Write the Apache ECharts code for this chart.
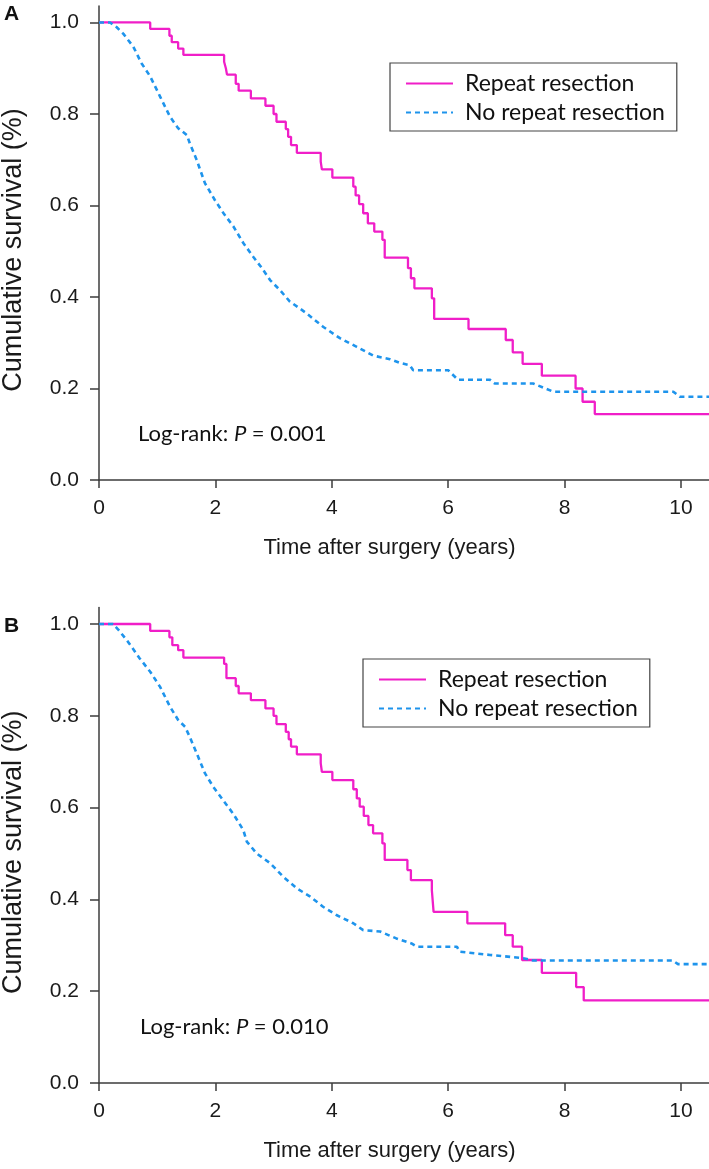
<!DOCTYPE html>
<html>
<head>
<meta charset="utf-8">
<script src="https://cdn.jsdelivr.net/npm/echarts@6/dist/echarts.min.js"></script>
<style>
html,body{margin:0;padding:0;background:#fff;}
#chart{width:709px;height:1169px;}
</style>
</head>
<body>
<div id="chart"></div>
<script>
// ---- Data ----
const xTicks = [0, 2, 4, 6, 8, 10];
const yTicks = [0, 0.2, 0.4, 0.6, 0.8, 1.0];
const seriesNames = ['Repeat resection', 'No repeat resection'];
const panelLabels = ['A', 'B'];
const logRankP = ['0.001', '0.010'];

// Panel A - Repeat resection (step times / survival after step)
const aRepeatT = [0, 0.88, 1.21, 1.25, 1.36, 1.45, 2.15, 2.18, 2.20, 2.35, 2.40, 2.61, 2.86, 3.00, 3.05, 3.21, 3.25, 3.30, 3.40, 3.81, 3.83, 4.01, 4.37, 4.41, 4.47, 4.54, 4.62, 4.73, 4.87, 4.91, 5.31, 5.36, 5.42, 5.72, 5.76, 6.35, 6.99, 7.11, 7.28, 7.61, 8.19, 8.31, 8.52, 10.5];
const aRepeatS = [1.0, 0.986, 0.971, 0.957, 0.943, 0.929, 0.914, 0.900, 0.886, 0.866, 0.851, 0.834, 0.818, 0.800, 0.783, 0.767, 0.750, 0.732, 0.715, 0.696, 0.679, 0.661, 0.641, 0.622, 0.603, 0.583, 0.561, 0.543, 0.525, 0.486, 0.463, 0.441, 0.419, 0.397, 0.352, 0.330, 0.306, 0.279, 0.254, 0.228, 0.200, 0.171, 0.144, 0.144];

// Panel A - No repeat resection
const aNoT = [0, 0.19, 0.30, 0.42, 0.59, 0.73, 0.88, 1.05, 1.22, 1.36, 1.51, 1.56, 1.68, 1.82, 1.99, 2.14, 2.31, 2.48, 2.65, 2.80, 2.94, 3.11, 3.28, 3.45, 3.57, 3.85, 4.14, 4.43, 4.71, 5.00, 5.17, 5.34, 5.40, 6.00, 6.17, 6.72, 6.80, 7.46, 7.81, 9.87, 9.98, 10.5];
const aNoS = [1.0, 1.0, 0.990, 0.975, 0.947, 0.911, 0.882, 0.838, 0.794, 0.769, 0.754, 0.736, 0.699, 0.649, 0.612, 0.583, 0.554, 0.518, 0.488, 0.463, 0.437, 0.415, 0.390, 0.375, 0.364, 0.335, 0.310, 0.291, 0.272, 0.264, 0.256, 0.251, 0.240, 0.240, 0.219, 0.219, 0.211, 0.211, 0.193, 0.193, 0.182, 0.182];

// Panel B - Repeat resection
const bRepeatT = [0, 0.88, 1.21, 1.26, 1.36, 1.45, 2.15, 2.19, 2.35, 2.40, 2.61, 2.86, 3.00, 3.05, 3.21, 3.26, 3.30, 3.40, 3.81, 3.83, 4.01, 4.37, 4.43, 4.48, 4.55, 4.63, 4.71, 4.87, 4.91, 5.30, 5.36, 5.72, 5.75, 6.33, 6.98, 7.11, 7.27, 7.61, 8.20, 8.33, 10.5];
const bRepeatS = [1.0, 0.985, 0.971, 0.954, 0.943, 0.927, 0.913, 0.882, 0.865, 0.849, 0.834, 0.816, 0.800, 0.782, 0.765, 0.749, 0.733, 0.716, 0.697, 0.678, 0.660, 0.640, 0.620, 0.602, 0.582, 0.562, 0.544, 0.522, 0.486, 0.464, 0.442, 0.420, 0.373, 0.348, 0.322, 0.297, 0.268, 0.240, 0.209, 0.180, 0.180];

// Panel B - No repeat resection
const bNoT = [0, 0.24, 0.33, 0.50, 0.70, 0.88, 1.05, 1.22, 1.36, 1.48, 1.56, 1.68, 1.82, 1.96, 2.14, 2.31, 2.48, 2.54, 2.71, 2.94, 3.17, 3.40, 3.63, 3.85, 4.08, 4.37, 4.54, 4.83, 5.11, 5.37, 5.46, 6.15, 6.20, 6.72, 7.29, 7.46, 9.86, 9.95, 10.5];
const bNoS = [1.0, 1.0, 0.988, 0.961, 0.925, 0.896, 0.863, 0.820, 0.791, 0.776, 0.754, 0.718, 0.675, 0.646, 0.615, 0.586, 0.551, 0.526, 0.500, 0.479, 0.449, 0.424, 0.406, 0.384, 0.366, 0.348, 0.333, 0.330, 0.315, 0.304, 0.297, 0.297, 0.286, 0.279, 0.272, 0.267, 0.267, 0.259, 0.259];

// ---- Styles / layout ----
const MAGENTA = '#F01EC8';
const BLUE = '#1E94EC';
const AXIS = '#3c3c3c';
const TICKFONT = 'Liberation Sans, Arial, sans-serif';
const TEXTFONT = 'Lato, "Open Sans", sans-serif';

const pair = (t, s) => t.map((v, i) => [v, s[i]]);

const grids = [
  { left: 99, top: 6, width: 611, height: 474, outerBoundsMode: 'none', containLabel: false },
  { left: 99, top: 607.5, width: 611, height: 475.5, outerBoundsMode: 'none', containLabel: false }
];

function xAxisFor(i) {
  return {
    gridIndex: i, type: 'value', min: 0, max: 10.5, interval: 2,
    axisLine: { show: true, onZero: false, lineStyle: { color: AXIS, width: 1.5 } },
    axisTick: { show: true, length: 8, customValues: xTicks, lineStyle: { color: AXIS, width: 1.5 } },
    axisLabel: { customValues: xTicks, margin: 18, fontSize: 21, color: '#1a1a1a', fontFamily: TICKFONT,
      formatter: v => String(v) },
    splitLine: { show: false },
    name: 'Time after surgery (years)', nameLocation: 'middle', nameGap: 57,
    nameTextStyle: { fontSize: 22, color: '#1a1a1a', fontFamily: TICKFONT, padding: [0, 30, 0, 0] }
  };
}
function yAxisFor(i) {
  return {
    gridIndex: i, type: 'value', min: 0, max: 1.036, interval: 0.2,
    axisLine: { show: true, lineStyle: { color: AXIS, width: 1.5 } },
    axisTick: { show: true, length: 9, customValues: yTicks, lineStyle: { color: AXIS, width: 1.5 } },
    axisLabel: { customValues: yTicks, margin: 20, fontSize: 21, color: '#1a1a1a', fontFamily: TICKFONT,
      formatter: v => v.toFixed(1) },
    splitLine: { show: false },
    name: 'Cumulative survival (%)', nameLocation: 'middle', nameGap: 72,
    nameTextStyle: { fontSize: 27, color: '#1a1a1a', fontFamily: TICKFONT, padding: [0, 14, 0, 0] }
  };
}
function repeatSeries(i, t, s) {
  return { name: seriesNames[0], type: 'line', xAxisIndex: i, yAxisIndex: i, step: 'end',
    symbol: 'none', data: pair(t, s), lineStyle: { color: MAGENTA, width: 2.3 }, itemStyle: { color: MAGENTA },
    silent: true, animation: false };
}
function noSeries(i, t, s) {
  return { name: seriesNames[1], type: 'line', xAxisIndex: i, yAxisIndex: i,
    symbol: 'none', data: pair(t, s), lineStyle: { color: BLUE, width: 2.6, type: [5, 4] }, itemStyle: { color: BLUE },
    silent: true, animation: false };
}
function legendFor(left, top) {
  return {
    orient: 'vertical', left: left, top: top, padding: [9, 12, 7, 15], itemGap: 6,
    itemWidth: 47, itemHeight: 14, borderColor: '#444', borderWidth: 1.2,
    selectedMode: false,
    itemStyle: { opacity: 0 },
    textStyle: { fontFamily: TEXTFONT, fontSize: 23, color: '#111', padding: [0, 0, 0, 7] },
    data: seriesNames
  };
}
function logRankText(x, y, p) {
  return {
    type: 'text', x: x, y: y,
    style: {
      text: '{n|Log-rank: }{i|P}{n| = ' + p + '}',
      verticalAlign: 'middle',
      rich: {
        n: { fontFamily: TEXTFONT, fontSize: 22, fill: '#111' },
        i: { fontFamily: TEXTFONT, fontSize: 22, fontStyle: 'italic', fill: '#111' }
      }
    }
  };
}

const chart = echarts.init(document.getElementById('chart'), null, { renderer: 'canvas' });
chart.setOption({
  backgroundColor: '#fff',
  animation: false,
  grid: grids,
  xAxis: [xAxisFor(0), xAxisFor(1)],
  yAxis: [yAxisFor(0), yAxisFor(1)],
  legend: [legendFor(390, 63), legendFor(363, 659)],
  series: [
    repeatSeries(0, aRepeatT, aRepeatS),
    noSeries(0, aNoT, aNoS),
    repeatSeries(1, bRepeatT, bRepeatS),
    noSeries(1, bNoT, bNoS)
  ],
  graphic: [
    { type: 'text', x: 4, y: 14, style: { text: panelLabels[0], fontFamily: TICKFONT, fontWeight: 'bold', fontSize: 21, fill: '#111', verticalAlign: 'middle' } },
    { type: 'text', x: 4, y: 626, style: { text: panelLabels[1], fontFamily: TICKFONT, fontWeight: 'bold', fontSize: 21, fill: '#111', verticalAlign: 'middle' } },
    logRankText(138, 434, logRankP[0]),
    logRankText(140, 1027, logRankP[1])
  ]
});
</script>
</body>
</html>
